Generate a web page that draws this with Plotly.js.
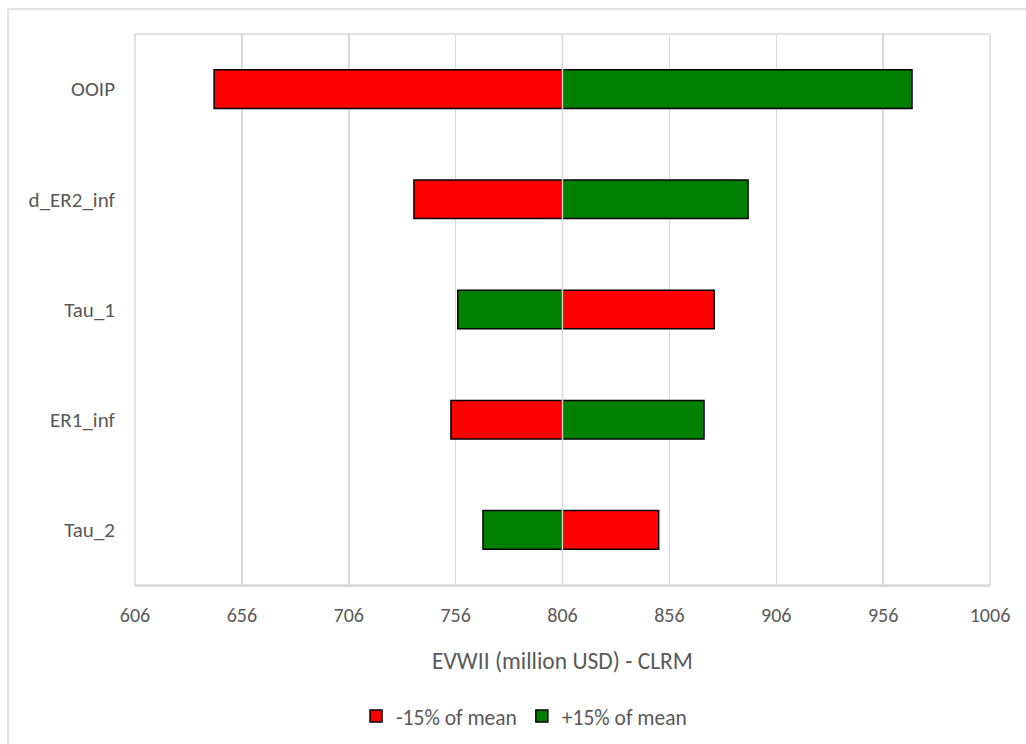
<!DOCTYPE html>
<html>
<head>
<meta charset="utf-8">
<script src="https://cdn.plot.ly/plotly-3.0.1.min.js"></script>
<style>html,body{margin:0;padding:0;background:#fff;}#chart{width:1026px;height:744px;}</style>
</head>
<body>
<div id="chart"></div>
<script>
const categories = ["OOIP", "d_ER2_inf", "Tau_1", "ER1_inf", "Tau_2"];
const baseValue = 806;
const minus15 = [643, 736.5, 877, 753.8, 851];
const plus15 = [969.5, 892.8, 757, 872.2, 768.8];
const tickVals = [606, 656, 706, 756, 806, 856, 906, 956, 1006];

const font = "Carlito, Lato, 'Open Sans', sans-serif";
const grey = "#595959";

function mk(name, vals, color) {
  return {
    type: "bar", orientation: "h", name: name,
    y: categories,
    x: vals.map(v => v - baseValue),
    base: baseValue,
    width: 0.35,
    marker: {color: color, line: {color: "#000000", width: 1.5}},
    hoverinfo: "none"
  };
}

const data = [mk("-15% of mean", minus15, "#ff0000"), mk("+15% of mean", plus15, "#008000")];

const layout = {
  width: 1026, height: 744,
  margin: {l: 135, r: 36, t: 34, b: 159, autoexpand: false},
  paper_bgcolor: "#ffffff", plot_bgcolor: "#ffffff",
  barmode: "overlay",
  showlegend: true,
  font: {family: font, color: grey, size: 20},
  xaxis: {
    automargin: false,
    range: [606, 1006], tickvals: tickVals, ticktext: tickVals.map(String),
    showgrid: true, gridcolor: "#d9d9d9", gridwidth: 1.5,
    zeroline: false, showline: true, linecolor: "#d9d9d9", linewidth: 1.5,
    ticks: "", ticklabelstandoff: 11, tickfont: {size: 20, color: grey},
    title: {text: "EVWII (million USD) - CLRM", font: {size: 23.5, color: grey}, standoff: 27}
  },
  yaxis: {
    automargin: false,
    type: "category", categoryorder: "array", categoryarray: categories,
    autorange: "reversed", showgrid: false, zeroline: false, showline: false,
    ticks: "", ticklabelstandoff: 19, tickfont: {size: 21, color: grey}
  },
  legend: {
    orientation: "h", x: 0.455, xanchor: "center", y: -0.238, yanchor: "middle",
    font: {size: 21.5, color: grey}, traceorder: "normal", itemwidth: 30
  },
  shapes: [
    {type: "rect", xref: "paper", yref: "paper", x0: 0, x1: 1, y0: 0, y1: 1,
     line: {color: "#d9d9d9", width: 1.5}, layer: "below"},
    {type: "rect", xref: "paper", yref: "paper", x0: -0.1485, x1: 1.2, y0: -0.5, y1: 1.0454,
     line: {color: "#d9d9d9", width: 1.5}, layer: "below"},
    {type: "line", xref: "x", yref: "paper", x0: baseValue, x1: baseValue, y0: 0, y1: 1,
     line: {color: "#d9d9d9", width: 1.5}, layer: "above"}
  ]
};

Plotly.newPlot("chart", data, layout, {displayModeBar: false, staticPlot: true});
</script>
</body>
</html>
